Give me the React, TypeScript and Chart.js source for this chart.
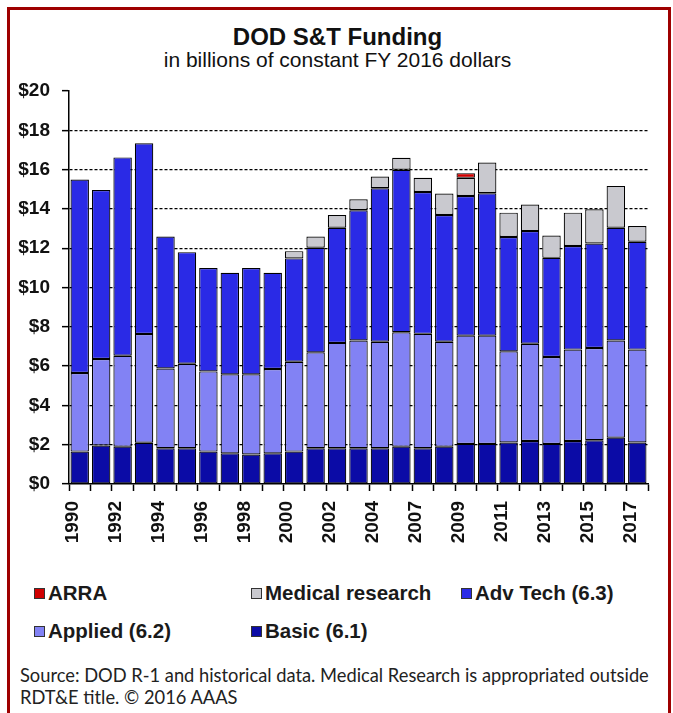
import React, { useEffect, useRef } from 'react';
import { Chart, registerables } from 'chart.js';

Chart.register(...registerables);

const categories = [
  '1990', '1991', '1992', '1993', '1994', '1995', '1996', '1997', '1998', '1999',
  '2000', '2001', '2002', '2003', '2004', '2005', '2007', '2008', '2009', '2010',
  '2011', '2012', '2013', '2014', '2015', '2016', '2017',
];

const basic = [1.65, 1.96, 1.9, 2.1, 1.82, 1.82, 1.65, 1.56, 1.5, 1.56, 1.65, 1.82, 1.82, 1.82, 1.82, 1.9, 1.82, 1.9, 2.04, 2.04, 2.11, 2.19, 2.04, 2.19, 2.23, 2.36, 2.11];
const applied = [4.0, 4.4, 4.63, 5.53, 4.06, 4.3, 4.08, 4.02, 4.08, 4.29, 4.57, 4.88, 5.36, 5.48, 5.42, 5.82, 5.82, 5.34, 5.51, 5.51, 4.64, 4.95, 4.42, 4.65, 4.69, 4.94, 4.73];
const advTech = [9.85, 8.6, 10.09, 9.71, 6.71, 5.68, 5.26, 5.17, 5.41, 4.9, 5.26, 5.32, 5.86, 6.63, 7.81, 8.27, 7.22, 6.45, 7.11, 7.25, 5.82, 5.73, 5.05, 5.27, 5.32, 5.74, 5.49];
const medical = [0, 0, 0, 0, 0, 0, 0, 0, 0, 0, 0.37, 0.57, 0.65, 0.56, 0.6, 0.61, 0.72, 1.09, 0.92, 1.56, 1.24, 1.35, 1.14, 1.7, 1.74, 2.13, 0.8];
const arra = [0, 0, 0, 0, 0, 0, 0, 0, 0, 0, 0, 0, 0, 0, 0, 0, 0, 0, 0.24, 0, 0, 0, 0, 0, 0, 0, 0];

const yTicks = [0, 2, 4, 6, 8, 10, 12, 14, 16, 18, 20];

const seriesNames = ['Basic (6.1)', 'Applied (6.2)', 'Adv Tech (6.3)', 'Medical research', 'ARRA'];
const seriesColors = ['#0b0ba6', '#8282f4', '#2a2ae6', '#c9c9cf', '#d00000'];

const TITLE = 'DOD S&T Funding';
const SUBTITLE = 'in billions of constant FY 2016 dollars';
const SOURCE1 = 'Source: DOD R-1 and historical data. Medical Research is appropriated outside';
const SOURCE2 = 'RDT&E title. \u00A9 2016 AAAS';

const CW = 673;
const CH = 565;
const AREA_LEFT = 69;
const AREA_RIGHT = 648;
const AREA_TOP = 91;
const AREA_BOTTOM = 484;

const nz = (arr: number[]) => arr.map((v) => (v === 0 ? null : v));

function LegendItem({ color, label, x, y }: { color: string; label: string; x: number; y: number }) {
  return (
    <div style={{ position: 'absolute', left: x, top: y - 12, height: 24, display: 'flex', alignItems: 'center', whiteSpace: 'nowrap' }}>
      <span style={{ display: 'inline-block', width: 9, height: 9, background: color, border: '1px solid #333', marginRight: 3 }} />
      <span style={{ fontFamily: '"Liberation Sans", Arial, sans-serif', fontWeight: 'bold', fontSize: 20.5, color: '#1a1a1a' }}>{label}</span>
    </div>
  );
}

export default function App() {
  const canvasRef = useRef<HTMLCanvasElement | null>(null);

  useEffect(() => {
    const canvas = canvasRef.current;
    if (!canvas) return;
    const data = [basic, applied, advTech, medical, arra];
    const chart = new Chart(canvas, {
      type: 'bar',
      data: {
        labels: categories,
        datasets: data.map((d, i) => ({
          label: seriesNames[i],
          data: nz(d),
          backgroundColor: seriesColors[i],
          borderColor: '#000',
          borderWidth: 1.2,
          borderSkipped: false,
          barPercentage: 0.86,
          categoryPercentage: 1,
        })),
      },
      options: {
        responsive: false,
        devicePixelRatio: 1,
        animation: false,
        layout: { padding: { left: 0, right: CW - AREA_RIGHT, top: AREA_TOP, bottom: 0 } },
        plugins: {
          legend: { display: false },
          tooltip: { enabled: false },
          title: { display: false },
        },
        scales: {
          x: {
            stacked: true,
            offset: true,
            afterFit: (scale: any) => {
              scale.height = CH - AREA_BOTTOM;
            },
            grid: {
              display: true,
              offset: true,
              drawOnChartArea: false,
              drawTicks: true,
              tickLength: 7,
              tickColor: '#000',
              tickWidth: 1.5,
            },
            border: { display: true, color: '#000', width: 1.5 },
            ticks: {
              autoSkip: false,
              minRotation: 90,
              maxRotation: 90,
              padding: 10,
              labelOffset: -7,
              color: '#111',
              font: { family: '"Liberation Sans", Arial, sans-serif', size: 19, weight: 'bold' },
              callback: (_v: any, index: number) => (index % 2 === 0 ? categories[index] : ''),
            },
          },
          y: {
            stacked: true,
            min: yTicks[0],
            max: yTicks[yTicks.length - 1],
            afterFit: (scale: any) => {
              scale.width = AREA_LEFT;
            },
            afterBuildTicks: (scale: any) => {
              scale.ticks = yTicks.map((v) => ({ value: v }));
            },
            grid: {
              display: true,
              drawOnChartArea: true,
              drawTicks: true,
              tickLength: 7,
              lineWidth: 1.3,
              tickWidth: 1.5,
              tickColor: '#000',
              color: (ctx: any) => (ctx.tick && (ctx.tick.value === 20 || ctx.tick.value === 0) ? 'rgba(0,0,0,0)' : '#000'),
            },
            border: { display: true, color: '#000', width: 1.5, dash: [3, 2] },
            ticks: {
              padding: 12,
              color: '#111',
              font: { family: '"Liberation Sans", Arial, sans-serif', size: 19, weight: 'bold' },
              callback: (v: any) => '$' + v,
            },
          },
        },
      },
    } as any);
    return () => chart.destroy();
  }, []);

  const src: React.CSSProperties = {
    position: 'absolute',
    left: 20,
    fontFamily: 'Lato, "Open Sans", sans-serif',
    fontSize: 18.3,
    color: '#222',
    whiteSpace: 'nowrap',
    lineHeight: '22px',
  };

  const head: React.CSSProperties = {
    position: 'absolute',
    left: 0,
    width: CW + 2,
    textAlign: 'center',
    fontFamily: '"Liberation Sans", Arial, sans-serif',
    color: '#111',
    whiteSpace: 'nowrap',
  };

  return (
    <div>
      <div
        style={{
          position: 'absolute',
          left: 7,
          top: 7,
          width: 664,
          height: 706,
          boxSizing: 'border-box',
          border: '3px solid #9e0000',
          borderBottom: 'none',
          background: '#fff',
        }}
      />
      <div style={{ ...head, top: 23, fontSize: 24, fontWeight: 'bold', lineHeight: '28px' }}>{TITLE}</div>
      <div style={{ ...head, top: 48, fontSize: 21, lineHeight: '24px' }}>{SUBTITLE}</div>
      <canvas ref={canvasRef} width={CW} height={CH} style={{ position: 'absolute', left: 0, top: 0, width: CW, height: CH }} />
      <LegendItem color={seriesColors[4]} label={seriesNames[4]} x={34} y={593} />
      <LegendItem color={seriesColors[3]} label={seriesNames[3]} x={251} y={593} />
      <LegendItem color={seriesColors[2]} label={seriesNames[2]} x={461} y={593} />
      <LegendItem color={seriesColors[1]} label={seriesNames[1]} x={34} y={631} />
      <LegendItem color={seriesColors[0]} label={seriesNames[0]} x={251} y={631} />
      <div style={{ ...src, top: 664 }}>{SOURCE1}</div>
      <div style={{ ...src, top: 686 }}>{SOURCE2}</div>
    </div>
  );
}
